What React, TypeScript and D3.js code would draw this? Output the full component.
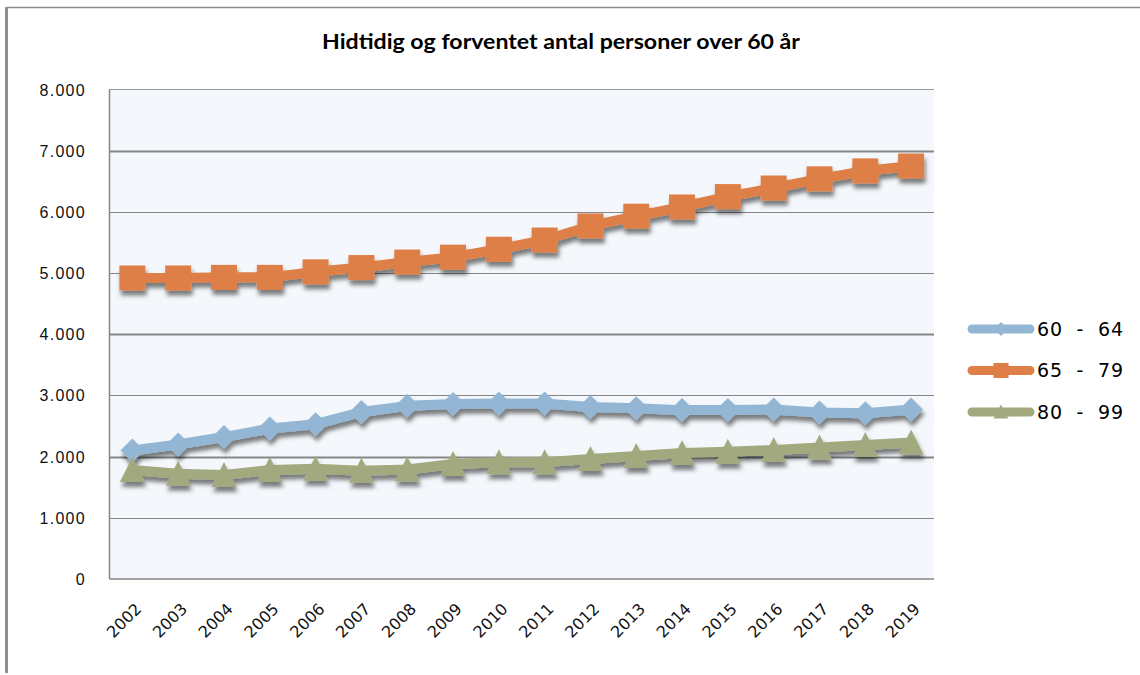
import React from 'react';
import * as d3 from 'd3';

const years = ['2002','2003','2004','2005','2006','2007','2008','2009','2010','2011','2012','2013','2014','2015','2016','2017','2018','2019'];
const s6064 = [2100, 2200, 2320, 2460, 2530, 2730, 2830, 2860, 2870, 2870, 2810, 2790, 2760, 2760, 2770, 2720, 2710, 2770];
const s6579 = [4920, 4920, 4930, 4930, 5020, 5090, 5180, 5260, 5390, 5540, 5770, 5930, 6080, 6250, 6390, 6540, 6670, 6750];
const s8099 = [1780, 1720, 1700, 1780, 1800, 1770, 1790, 1880, 1910, 1910, 1960, 2010, 2060, 2080, 2110, 2150, 2190, 2230];
const seriesNames = ['60  -  64', '65  -  79', '80  -  99'];
const seriesColors = ['#93B6D4', '#DE7F47', '#A3A97E'];
const yTicks = [0, 1000, 2000, 3000, 4000, 5000, 6000, 7000, 8000];
const title = 'Hidtidig og forventet antal personer over 60 år';

const W = 1140, H = 675;
const plot = { left: 109.5, right: 934, top: 89.5, bottom: 579 };

const diamond = (s: number) => `M0,${-s} L${s},0 L0,${s} L${-s},0 Z`;
const square = (w: number, h: number) => `M${-w / 2},${-h / 2} h${w} v${h} h${-w} Z`;
const triangle = (w: number, h: number) => `M0,${-h / 2 - 0.5} L${w / 2},${h / 2 - 0.5} L${-w / 2},${h / 2 - 0.5} Z`;

export default function App() {
  const x = d3.scaleBand<string>().domain(years).range([plot.left, plot.right]).padding(0);
  const cx = (yr: string) => (x(yr) as number) + x.bandwidth() / 2;
  const y = d3.scaleLinear().domain([0, 8000]).range([plot.bottom, plot.top]);
  const fmt = (v: number) => d3.format(',')(v).replace(/,/g, '.');

  const series = [s6064, s6579, s8099];
  const markers = [diamond(12), square(26, 25), triangle(25, 25)];
  const legendMarkers = [diamond(7), square(15, 15), triangle(15, 14)];

  const line = d3.line<number>().x((_, i) => cx(years[i])).y(d => y(d)).curve(d3.curveLinear);

  return (
    <svg width={W} height={H} style={{ position: 'absolute', left: 0, top: 0, background: '#fff' }}>
      <defs>
        <filter id="shadow" x="-10%" y="-10%" width="120%" height="130%">
          <feDropShadow dx="1.5" dy="5" stdDeviation="2.2" floodColor="#000" floodOpacity="0.5" />
        </filter>
      </defs>
      {/* outer frame */}
      <line x1={7} x2={W} y1={7.5} y2={7.5} stroke="#8a8a8a" strokeWidth={1.5} />
      <line x1={6.5} x2={6.5} y1={7} y2={673} stroke="#8f8f8f" strokeWidth={3} />

      {/* title */}
      <text x={561} y={49} textAnchor="middle" fontFamily="Lato, 'DejaVu Sans', sans-serif" fontWeight="bold" fontSize={21}
        textLength={478} lengthAdjust="spacingAndGlyphs" fill="#000">{title}</text>

      {/* plot background */}
      <rect x={plot.left} y={plot.top} width={plot.right - plot.left} height={plot.bottom - plot.top} fill="#F4F8FC" />
      {yTicks.filter(t => t > 0 && t < 8000).map(t => (
        <line key={t} x1={plot.left} x2={plot.right} y1={Math.round(y(t)) + 0.5} y2={Math.round(y(t)) + 0.5}
          stroke="#868686" strokeWidth={(t === 7000 || t === 4000 || t === 2000) ? 2 : 1} />
      ))}
      <line x1={plot.left} x2={plot.right} y1={plot.top} y2={plot.top} stroke="#9a9a9a" strokeWidth={1} />
      <line x1={plot.left} x2={plot.left} y1={plot.top} y2={plot.bottom} stroke="#868686" strokeWidth={1.5} />
      <line x1={plot.left} x2={plot.right} y1={plot.bottom} y2={plot.bottom} stroke="#868686" strokeWidth={1.5} />

      {/* y labels */}
      {yTicks.map(t => (
        <text key={t} x={86} y={y(t) + 6} textAnchor="end" fontFamily="'Liberation Sans', Arial, sans-serif" fontSize={16}
          letterSpacing={1.3} fill="#111">{fmt(t)}</text>
      ))}

      {/* x labels */}
      {years.map(yr => (
        <text key={yr} transform={`translate(${cx(yr) + 6},${606}) rotate(-45)`} textAnchor="end"
          fontFamily="'DejaVu Sans', sans-serif" fontSize={16} fill="#111" dy="0.35em">{yr}</text>
      ))}

      {/* series */}
      {series.map((vals, si) => (
        <g key={si} filter="url(#shadow)">
          <path d={line(vals) as string} fill="none" stroke={seriesColors[si]} strokeWidth={10} strokeLinejoin="round" strokeLinecap="round" />
          {vals.map((v, i) => (
            <path key={i} d={markers[si]} transform={`translate(${cx(years[i])},${y(v)})`} fill={seriesColors[si]} />
          ))}
        </g>
      ))}

      {/* legend */}
      {seriesNames.map((name, si) => {
        const ly = 329 + si * 41.5;
        return (
          <g key={name}>
            <line x1={972} x2={1030} y1={ly} y2={ly} stroke={seriesColors[si]} strokeWidth={9} strokeLinecap="round" />
            <path d={legendMarkers[si]} transform={`translate(1001,${ly})`} fill={seriesColors[si]} />
            <text x={1037} y={ly + 6.5} fontFamily="'DejaVu Sans', sans-serif" fontSize={19} textLength={86}
              lengthAdjust="spacing" fill="#000" xmlSpace="preserve" style={{ whiteSpace: 'pre' }}>{name}</text>
          </g>
        );
      })}
    </svg>
  );
}
